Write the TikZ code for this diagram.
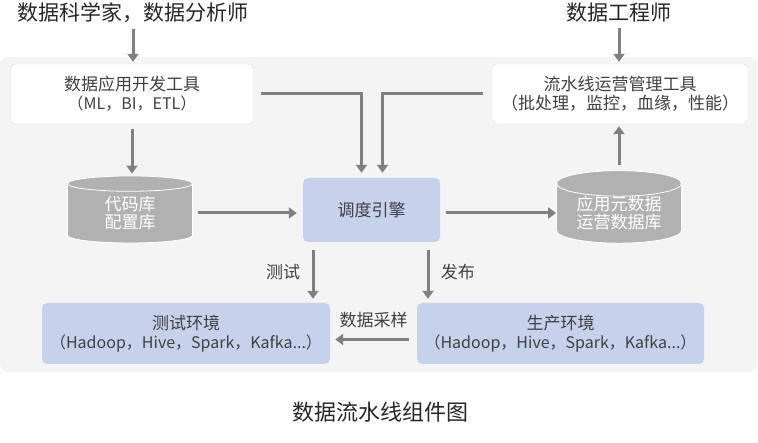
\documentclass[tikz,border=0pt]{standalone}
\usepackage{fontspec}
\setmainfont{Noto Sans CJK SC}
\usetikzlibrary{arrows.meta, shapes.geometric}
\definecolor{bggray}{HTML}{F4F4F4}
\definecolor{boxline}{HTML}{DCDCDC}
\definecolor{engblue}{HTML}{C6D1EC}
\definecolor{cylgray}{HTML}{B1B1B1}
\definecolor{arrgray}{HTML}{808080}
\definecolor{txtgray}{HTML}{404040}
\newcommand{\bigcn}{\fontsize{17}{20}\selectfont}
\newcommand{\smlat}{\fontsize{16}{20}\selectfont}

\begin{document}
\begin{tikzpicture}[x=1pt,y=-1pt,
  toolbox/.style={draw=boxline,fill=white,rounded corners=5pt,align=center,
    text=txtgray,font=\bigcn,minimum width=#1,minimum height=60pt,inner sep=0pt},
  envbox/.style={fill=engblue,rounded corners=5pt,align=center,
    text=txtgray,font=\bigcn,minimum width=#1,minimum height=61pt,inner sep=0pt},
  dbcyl/.style={cylinder,shape border rotate=90,aspect=0.3,draw=white,thick,
    fill=cylgray,text=white,align=center,font=\bigcn,
    minimum width=125pt,minimum height=67pt,inner sep=0pt},
  role/.style={text=black!85,font=\fontsize{21}{24}\selectfont},
  lbl/.style={text=txtgray,font=\bigcn},
  arr/.style={draw=arrgray,line width=3pt,-{Triangle[width=11pt,length=8pt]},
    shorten >=2pt,shorten <=2pt}]
  \useasboundingbox (0,0) rectangle (758,443);
  \fill[bggray,rounded corners=8pt] (0,57) rectangle (757,372);

  \node[role] (sci) at (133,13) {数据科学家，数据分析师};
  \node[role] (eng) at (619,13) {数据工程师};

  \node[toolbox=243pt] (dev) at (132,94) {数据应用开发工具\\[-1pt]{\smlat（ML，BI，ETL）}};
  \node[toolbox=256pt] (ops) at (620,94) {流水线运营管理工具\\[-1pt]（批处理，监控，血缘，性能）};
  \node[dbcyl] (code) at (130,213.5) {代码库\\[-2pt]配置库};
  \node[envbox=137pt,minimum height=64pt] (sched) at (371.5,210) {调度引擎};
  \node[dbcyl] (meta) at (619,213.5) {应用元数据\\[-2pt]运营数据库};
  \node[envbox=288pt] (test) at (186,333.5) {测试环境\\[-1pt]{\smlat（Hadoop，Hive，Spark，Kafka...）}};
  \node[envbox=287pt] (prod) at (560.5,333.5) {生产环境\\[-1pt]{\smlat（Hadoop，Hive，Spark，Kafka...）}};

  \node[text=black!85,font=\fontsize{22}{26}\selectfont] (cap) at (380,412) {数据流水线组件图};

  \draw[arr] (sci.south) -- (sci.south |- dev.north);
  \draw[arr] (eng.south) -- (eng.south |- ops.north);
  \draw[arr,shorten <=5pt] (dev.south) -- (dev.south |- code.north);
  \draw[arr,shorten <=5pt] (meta.north) -- (meta.north |- ops.south);
  \draw[arr,shorten <=5pt,shorten >=6pt] (code.east |- 0,213) -- (sched.west |- 0,213);
  \draw[arr,shorten <=6pt,shorten >=0pt] (sched.east |- 0,213) -- (meta.west |- 0,213);
  \draw[arr,shorten <=7pt,shorten >=5pt] (dev.east) -| ([xshift=-10pt]sched.north);
  \draw[arr,shorten <=9pt,shorten >=5pt] (ops.west) -| ([xshift=11pt]sched.north);
  \draw[arr,shorten <=8pt,shorten >=4pt] ([xshift=-58.5pt]sched.south)
    -- node[lbl,left=8pt] {测试} ([xshift=-58.5pt]sched.south |- test.north);
  \draw[arr,shorten <=8pt,shorten >=4pt] ([xshift=56.5pt]sched.south)
    -- node[lbl,right=8pt] {发布} ([xshift=56.5pt]sched.south |- prod.north);
  \draw[arr,shorten <=8pt,shorten >=5pt] ([yshift=-6pt]prod.west)
    -- node[lbl,above=7pt] {数据采样} ([yshift=-6pt]test.east);
\end{tikzpicture}
\end{document}
